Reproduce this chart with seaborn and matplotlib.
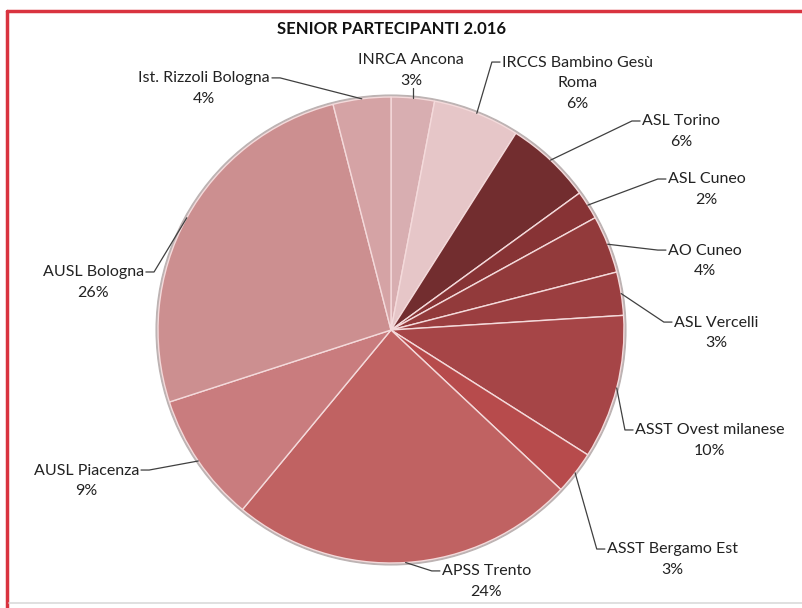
import numpy as np
import seaborn as sns
import matplotlib.pyplot as plt
from matplotlib.lines import Line2D

# Chart data
categories = ['INRCA Ancona', 'IRCCS Bambino Gesù\nRoma', 'ASL Torino', 'ASL Cuneo',
              'AO Cuneo', 'ASL Vercelli', 'ASST Ovest milanese', 'ASST Bergamo Est',
              'APSS Trento', 'AUSL Piacenza', 'AUSL Bologna', 'Ist. Rizzoli Bologna']
percent = [3, 6, 6, 2, 4, 3, 10, 3, 24, 9, 26, 4]
colors = ['#D8AEB1', '#E6C6C8', '#722D2F', '#873335', '#923A3B', '#9B3E40',
          '#A64547', '#B74B4C', '#C06262', '#C97C7E', '#CC8F90', '#D5A3A5']
title = "SENIOR PARTECIPANTI 2.016"

# label attach points (pie radius = 1) and text side
label_pos = [(0.086, 1.04), (0.468, 1.150), (1.069, 0.897), (1.180, 0.648),
             (1.180, 0.343), (1.206, 0.034), (1.039, -0.429), (0.918, -0.940),
             (0.210, -1.034), (-1.073, -0.601), (-1.052, 0.249), (-0.511, 1.082)]
label_side = ['center', 'left', 'left', 'left', 'left', 'left', 'left', 'left',
              'left', 'right', 'right', 'right']

sns.set_theme(style="white")
plt.rcParams['font.family'] = ['Lato', 'DejaVu Sans']

fig = plt.figure(figsize=(8.03, 6.08), dpi=100)
ax = fig.add_axes([0, 0, 1, 1])
cx, cy, rpx = 391, 330, 233
ax.axis('off')

# soft outer rim
ax.add_patch(plt.Circle((0, 0), 1.008, color='#BDB3B3', zorder=0))
wedges, _ = ax.pie(percent, colors=colors, startangle=90, counterclock=False,
                   radius=1, wedgeprops=dict(edgecolor='#F4DADB', linewidth=1.0),
                   frame=False)
ax.set_xlim(-cx / rpx, (803 - cx) / rpx)
ax.set_ylim(-(608 - cy) / rpx, cy / rpx)
ax.set_aspect('auto')

for w, lab, p, (lx, ly), side in zip(wedges, categories, percent, label_pos, label_side):
    ang = np.deg2rad((w.theta1 + w.theta2) / 2)
    ex, ey = np.cos(ang), np.sin(ang)
    txt = f"{lab}\n{p}%"
    if side == 'center':
        ax.plot([ex, ex], [ey, ly], color='#404040', lw=0.9)
        ax.text(lx, ly, txt, ha='center', va='bottom', fontsize=11.5,
                color='#222222', multialignment='center', linespacing=1.6)
        continue
    sgn = 1 if side == 'left' else -1
    kx = lx - sgn * 0.035
    ax.plot([ex, kx, lx], [ey, ly, ly], color='#404040', lw=0.9)
    ax.text(lx + sgn * 0.008, ly + 0.028, txt, ha=side, va='top', fontsize=11.5,
            color='#222222', multialignment='center', linespacing=1.6)

fig.text(392 / 803, 1 - 29 / 608, title, ha='center', va='center',
         fontsize=12, fontweight='bold', color='#111111')

# frame around the picture
fig.add_artist(Line2D([7 / 803, 1], [1 - 11 / 608] * 2, color='#D9333F', lw=2.5,
                      transform=fig.transFigure))
fig.add_artist(Line2D([7 / 803] * 2, [0, 1 - 11 / 608], color='#D9333F', lw=2.5,
                      transform=fig.transFigure))
fig.add_artist(Line2D([9 / 803, 1], [1 - 603 / 608] * 2, color='#DADADA', lw=1.2,
                      transform=fig.transFigure))

fig.savefig('out.png', dpi=100)
